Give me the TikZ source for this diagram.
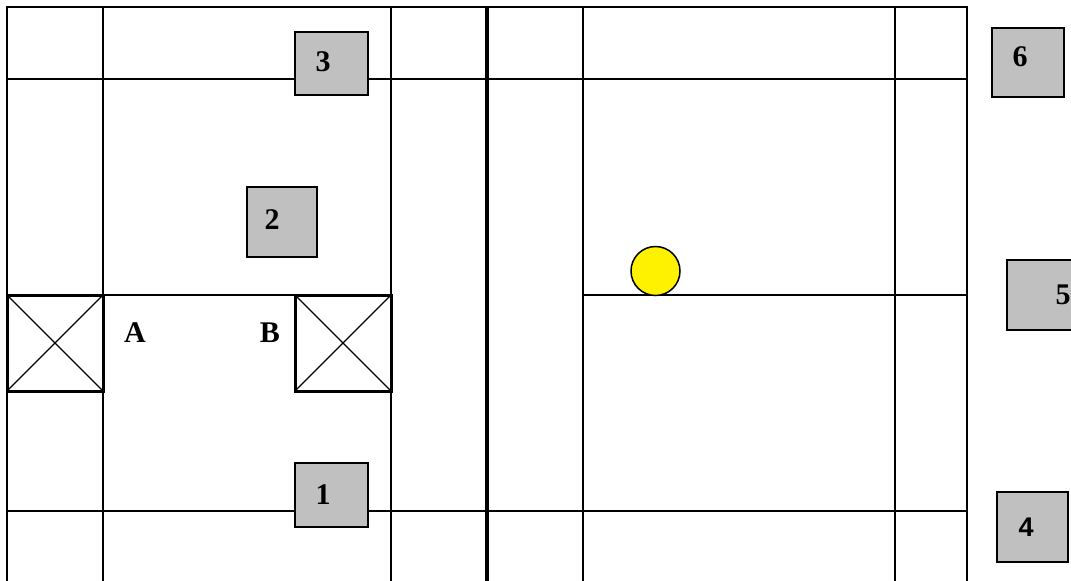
\documentclass[tikz,border=0pt]{standalone}
\usepackage{fontspec}
\setmainfont{Liberation Serif}
\newfontfamily\numsans{Liberation Sans}
\definecolor{boxgray}{HTML}{C0C0C0}

\begin{document}
\begin{tikzpicture}[x=1pt,y=-1pt,line width=1.5pt,
	tbox/.style={draw,fill=boxgray,line width=2pt,inner sep=0pt,outer sep=0pt},
	xbox/.style={draw,line width=3pt,minimum size=96pt,inner sep=0pt,outer sep=0pt},
	num/.style={font=\fontsize{30}{32}\selectfont\bfseries,inner sep=0pt}]
			\useasboundingbox (0,0) rectangle (1071,581);
			\clip (0,0) rectangle (1071,581);
			
			% grid
			\draw (7,581) -- (7,7) -- (967,7) -- (967,581);
			\foreach \gx in {103,391,583,895}
				\draw (\gx,7) -- (\gx,581);
			\foreach \gy in {79,511}
				\draw (7,\gy) -- (967,\gy);
			\draw[line width=4pt] (487,7) -- (487,581);
			\coordinate (R1) at (583,295);
			\coordinate (R2) at (967,295);
			\draw (R1) -- (R2);
			
			% crossed boxes
			\node[xbox] (boxA) at (55,343) {};
			\node[xbox] (boxB) at (343,343) {};
			\foreach \bx in {boxA,boxB} {
				\draw[line width=1.3pt] (\bx.north west) -- (\bx.south east);
				\draw[line width=1.3pt] (\bx.south west) -- (\bx.north east);
			}
			\draw (boxA.north east) -- (boxB.north west);
			\node[num] (labA) at (135,333) {A};
			\node[num] (labB) at (270,333) {B};
			
			% gray boxes
			\node[tbox,minimum width=73pt,minimum height=63pt] (box3) at (331.5,63.5) {};
			\node[tbox,minimum width=73pt,minimum height=64pt] (box1) at (331.5,495) {};
			\node[tbox,minimum width=70pt,minimum height=70pt] (box2) at (282,222) {};
			\node[tbox,minimum width=72pt,minimum height=69pt] (box6) at (1028,62.5) {};
			\node[tbox,minimum width=90pt,minimum height=70pt] (box5) at (1052,295) {};
			\node[tbox,minimum width=71pt,minimum height=70pt] (box4) at (1032.5,527) {};
			\node[num] (n3) at (323,62) {3};
			\node[num] (n1) at (323,495) {1};
			\node[num] (n2) at (272,220) {2};
			\node[num] (n6) at (1020,57) {6};
			\node[num] (n5) at (1063,295) {5};
			\node[num,font=\fontsize{27}{29}\selectfont\bfseries\numsans] (n4) at (1026,527) {4};
			
			% ball
			\node[draw,circle,fill=yellow,minimum size=49pt,inner sep=0pt] (ball) at (655.5,271) {};
		\end{tikzpicture}
\end{document}
